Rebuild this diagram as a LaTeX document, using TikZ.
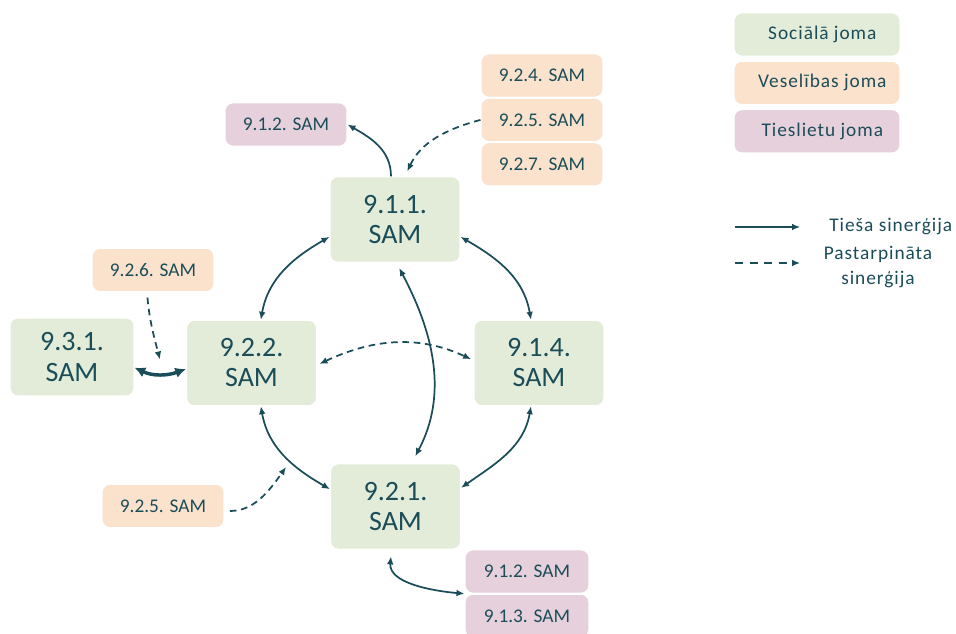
\documentclass[tikz,border=0pt]{standalone}
\usepackage{fontspec}
\setmainfont{Carlito}
\newfontfamily\legfont[LetterSpace=5]{Carlito}
\usetikzlibrary{positioning,arrows.meta}
\definecolor{sinteal}{RGB}{27,77,88}
\definecolor{socgreen}{RGB}{226,236,217}
\definecolor{velorange}{RGB}{250,226,204}
\definecolor{tiepurple}{RGB}{230,208,220}

\begin{document}
\begin{tikzpicture}[x=0.75pt, y=0.75pt, >={Latex[length=6pt,width=5pt]},
    every node/.style={font=\fontsize{14.5}{17}\selectfont, text=sinteal},
    box/.style={rounded corners=6pt, draw=white, line width=0.8pt, align=center, inner sep=0pt},
    bigbox/.style={box, fill=socgreen, minimum width=97.5pt, minimum height=64pt, font=\fontsize{21}{22.5}\selectfont},
    smallbox/.style={box, minimum width=91.5pt, minimum height=32.5pt},
    velbox/.style={smallbox, fill=velorange},
    tiebox/.style={smallbox, fill=tiepurple},
    legbox/.style={box, minimum width=124.5pt, minimum height=32.5pt, font=\fontsize{14.5}{17}\selectfont\legfont},
    syn/.style={draw=sinteal, line width=1.3pt},
    synd/.style={syn, dash pattern=on 5pt off 3.5pt}]
    \useasboundingbox (0,0) rectangle (956,-633);
    % main measures
    \node[bigbox] (s911) at (395,-219.5) {9.1.1.\\SAM};
    \node[bigbox] (s922) at (251.5,-363) {9.2.2.\\SAM};
    \node[bigbox] (s914) at (539,-363) {9.1.4.\\SAM};
    \node[bigbox] (s921) at (395.5,-506.5) {9.2.1.\\SAM};
    \node[bigbox, minimum width=93pt, minimum height=58.5pt] (s931) at (72,-357) {9.3.1.\\SAM};
    % linked measures
    \node[tiebox] (t912a) at (286,-124.5) {9.1.2. SAM};
    \node[velbox] (v924) at (542,-75.5) {9.2.4. SAM};
    \node[velbox, below=0pt of v924] (v925a) {9.2.5. SAM};
    \node[velbox, below=0pt of v925a] (v927) {9.2.7. SAM};
    \node[velbox] (v926) at (153,-270) {9.2.6. SAM};
    \node[velbox] (v925b) at (163,-506) {9.2.5. SAM};
    \node[tiebox, minimum width=93pt] (t912b) at (527,-571.5) {9.1.2. SAM};
    \node[tiebox, minimum width=93pt, below=0pt of t912b] (t913) {9.1.3. SAM};
    % legend
    \node[legbox, fill=socgreen] (lsoc) at (817,-34.5) {\hspace*{8pt}Sociālā joma};
    \node[legbox, fill=velorange, below=3pt of lsoc] (lvel) {\hspace*{8pt}Veselības joma};
    \node[legbox, fill=tiepurple, below=3pt of lvel] (ltie) {\hspace*{8pt}Tieslietu joma};
    \coordinate (lt1) at (735,-227);
    \coordinate (lt2) at (800,-227);
    \coordinate (lp1) at (735,-263);
    \coordinate (lp2) at (800,-263);
    \draw[syn, line width=1pt, ->] (lt1) -- (lt2);
    \draw[syn, line width=1pt, dash pattern=on 6pt off 5pt, ->] (lp1) -- (lp2);
    \node[anchor=west, inner sep=0pt, font=\fontsize{14.5}{17}\selectfont\legfont] (ltsin) at (829,-227) {Tieša sinerģija};
    \node[align=center, font=\fontsize{14.5}{18.75}\selectfont\legfont] (lpsin) at (878,-267) {Pastarpināta\\sinerģija};
    % synergies
    \draw[syn, ->] ([xshift=-3pt]s911.north) to[out=90, in=-30] (t912a.east);
    \draw[synd, ->, shorten >=4pt] (v925a.west) to[out=195, in=65] ([xshift=7.5pt]s911.north);
    \draw[syn, <->] ([xshift=7pt]s922.north) to[out=80, in=210] ([yshift=-13pt]s911.west);
    \draw[syn, <->] ([yshift=-13pt]s911.east) to[out=-30, in=100] ([xshift=-6pt]s914.north);
    \draw[syn, <->] ([xshift=-6pt]s914.south) to[out=-100, in=35] ([yshift=14pt]s921.east);
    \draw[syn, <->] ([xshift=7pt]s922.south) to[out=-80, in=150] ([yshift=13pt]s921.west);
    \draw[syn, <->, shorten <=4.5pt, shorten >=6pt] ([xshift=1pt]s911.south) to[out=-62, in=62] ([xshift=12pt]s921.north);
    \draw[synd, <->, shorten <=2pt, shorten >=2pt] ([yshift=-1.5pt]s922.east) to[out=25, in=155] ([yshift=2pt]s914.west);
    \draw[syn, line width=2.6pt, <->, >={Latex[length=8pt,width=8pt]}] ([yshift=-8pt]s931.east) to[out=-25, in=200] coordinate[pos=0.5] (m931) ([yshift=-4.5pt]s922.west);
    \draw[synd, ->, shorten <=4pt] ([xshift=-4.5pt]v926.south) to[out=-85, in=105] ([yshift=11pt]m931);
    \coordinate (d925) at (286,-467);
    \draw[synd, ->, shorten <=4pt] ([yshift=-3.75pt]v925b.east) to[out=0, in=235] (d925);
    \draw[syn, <->, shorten <=5pt] ([xshift=-3pt]s921.south) to[out=-95, in=175] (t912b.south west);
\end{tikzpicture}
\end{document}
